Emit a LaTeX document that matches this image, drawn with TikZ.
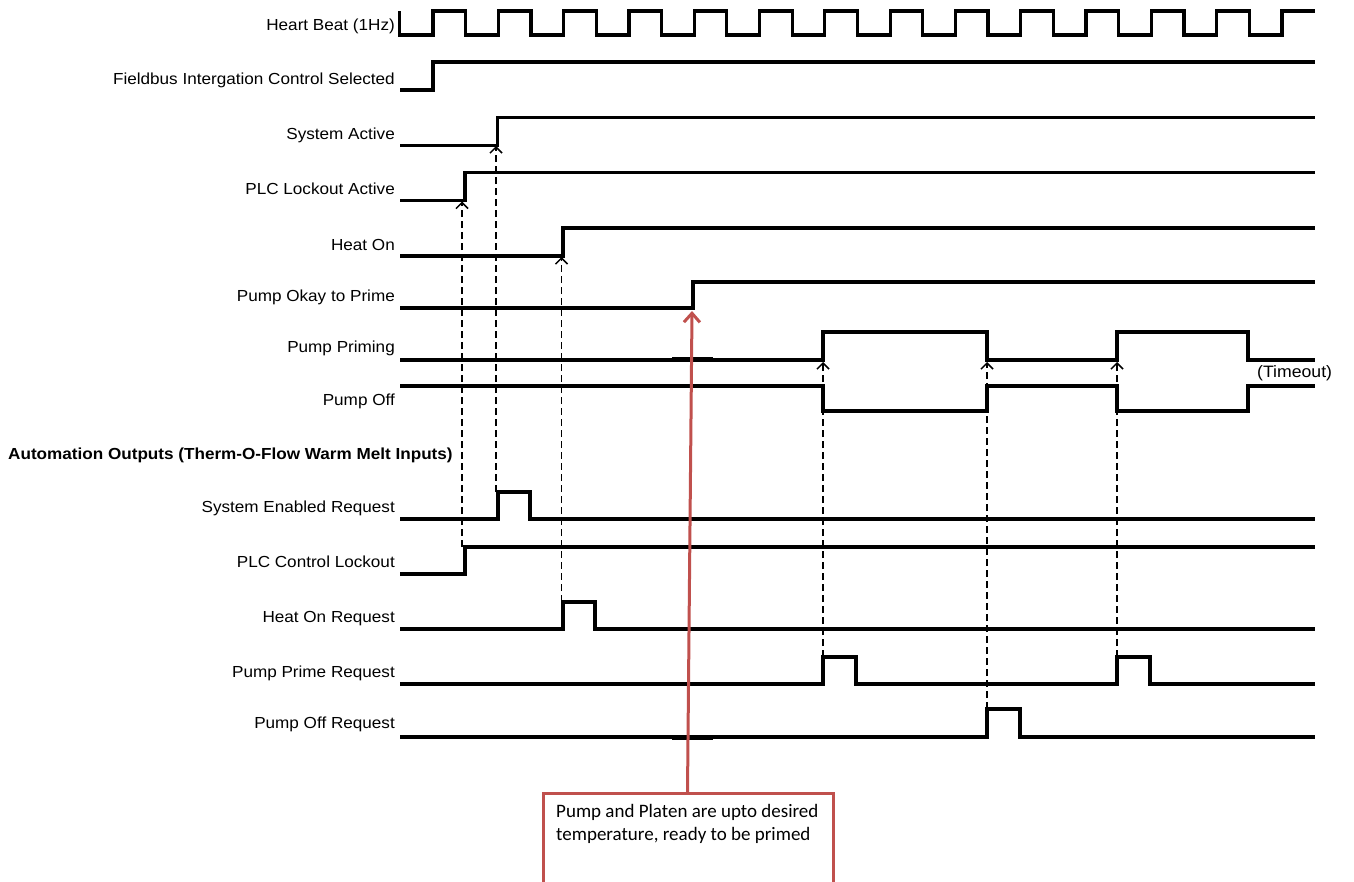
\documentclass[tikz,border=0pt]{standalone}
\usepackage{fontspec}
\setmainfont{Liberation Sans}[FakeStretch=1.07]
\newfontfamily\calib{Carlito}
\usetikzlibrary{arrows.meta}
\definecolor{annred}{HTML}{C0504D}
\begin{document}
\begin{tikzpicture}[x=1pt,y=-1pt,
  sig/.style={line width=3.2pt, line join=miter},
  lbl/.style={anchor=base east, font=\fontsize{16}{19}\selectfont, inner sep=0pt},
  cause/.style={dash pattern=on 7pt off 4pt, line width=1.4pt, -{Straight Barb[length=6pt,width=12pt,line width=1.5pt]}},
]
\useasboundingbox (0,0) rectangle (1354,881);
\clip (0,0) rectangle (1354,881);

% labels
\node[lbl] (lHB) at (395,30) {Heart Beat (1Hz)};
\node[lbl] (lFB) at (395,84) {Fieldbus Intergation Control Selected};
\node[lbl] (lSA) at (395,139) {System Active};
\node[lbl] (lPL) at (395,194) {PLC Lockout Active};
\node[lbl] (lHO) at (395,250) {Heat On};
\node[lbl] (lPO) at (395,301) {Pump Okay to Prime};
\node[lbl] (lPP) at (395,352) {Pump Priming};
\node[lbl] (lPF) at (395,405) {Pump Off};
\node[anchor=base west, font=\bfseries\fontsize{16}{19}\selectfont, inner sep=0pt] (head) at (8,459) {Automation Outputs (Therm-O-Flow Warm Melt Inputs)};
\node[lbl] (lSE) at (395,512) {System Enabled Request};
\node[lbl] (lCL) at (395,567) {PLC Control Lockout};
\node[lbl] (lHR) at (395,622) {Heat On Request};
\node[lbl] (lPR) at (395,677) {Pump Prime Request};
\node[lbl] (lOR) at (395,728) {Pump Off Request};
\node[anchor=base west, font=\fontsize{16.5}{19}\selectfont, inner sep=0pt] (tmo) at (1257,377) {(Timeout)};

% heart beat
\draw[sig] (399.5,11) -- (399.5,35)
  foreach \k in {0,...,12}{ -- ({433+65.3*\k},35) -- ({433+65.3*\k},11) -- ({465.6+65.3*\k},11) -- ({465.6+65.3*\k},35) }
  -- (1282,35) -- (1282,11) -- (1315,11);
% inputs
\draw[sig] (400,90) -- (433,90) -- (433,62) -- (1315,62);
\draw[sig] (400,145.5) -- (497.5,145.5) -- (497.5,117.5) -- (1315,117.5);
\draw[sig] (400,200.5) -- (465,200.5) -- (465,172.5) -- (1315,172.5);
\draw[sig] (400,256) -- (563,256) -- (563,228) -- (1315,228);
\draw[sig] (400,308) -- (693,308) -- (693,282) -- (1315,282);
\draw[sig] (400,360) -- (823,360) -- (823,332) -- (987,332) -- (987,360) -- (1117,360) -- (1117,332) -- (1248,332) -- (1248,360) -- (1315,360);
\draw[sig] (672,358.5) -- (713,358.5);
\draw[sig] (400,386) -- (823,386) -- (823,411) -- (987,411) -- (987,386) -- (1117,386) -- (1117,411) -- (1248,411) -- (1248,386) -- (1315,386);
% outputs
\draw[sig] (400,519) -- (498,519) -- (498,492) -- (530,492) -- (530,519) -- (1315,519);
\draw[sig] (400,574) -- (465,574) -- (465,547) -- (1315,547);
\draw[sig] (400,629) -- (563,629) -- (563,602) -- (595,602) -- (595,629) -- (1315,629);
\draw[sig] (400,684) -- (823,684) -- (823,657) -- (856,657) -- (856,684) -- (1117,684) -- (1117,657) -- (1150,657) -- (1150,684) -- (1315,684);
\draw[sig] (400,737) -- (987,737) -- (987,709) -- (1020,709) -- (1020,737) -- (1315,737);
\draw[sig] (672,738.5) -- (713,738.5);

% cause arrows
\coordinate (cSEq) at (496,492);   \coordinate (cSA) at (496,146);
\coordinate (cCLq) at (462,547);   \coordinate (cPL) at (462,201.5);
\coordinate (cHRq) at (561.5,602); \coordinate (cHO) at (561.5,257);
\coordinate (cPR1) at (823,657);   \coordinate (cPP1) at (823,362);
\coordinate (cOR1) at (987,709);   \coordinate (cPP2) at (987,362);
\coordinate (cPR2) at (1117,657);  \coordinate (cPP3) at (1117,362);
\draw[cause] (cSEq) -- (cSA);
\draw[cause] (cCLq) -- (cPL);
\draw[cause] (cHRq) -- (cHO);
\draw[cause] (cPR1) -- (cPP1);
\draw[cause] (cOR1) -- (cPP2);
\draw[cause] (cPR2) -- (cPP3);

% annotation
\node[draw=annred, line width=2.5pt, fill=white, minimum width=290pt, minimum height=110pt, anchor=north west, inner sep=0pt] (note) at (542,792) {};
\node[anchor=north west, align=left, inner sep=0pt, font=\calib\fontsize{19}{23.3}\selectfont] (notetxt) at (556,804) {Pump and Platen are upto desired\\temperature, ready to be primed};
\coordinate (okrise) at (692,311);
\draw[annred, line width=3pt, -{Straight Barb[length=9pt,width=16pt,line width=3pt]}] (note.north -| 687.5,0) -- (okrise);
\end{tikzpicture}
\end{document}
